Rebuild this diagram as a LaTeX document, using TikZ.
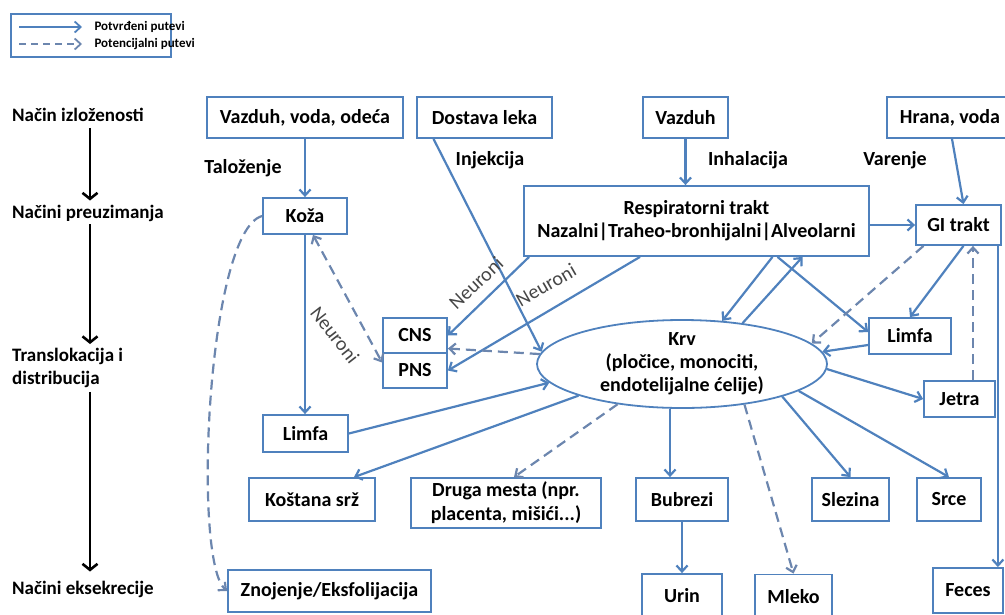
\documentclass[tikz,border=0pt]{standalone}
\usepackage{fontspec}
\setmainfont{Carlito}
\usetikzlibrary{arrows.meta, positioning, shapes.geometric}

\definecolor{pathblue}{RGB}{79,129,189}
\definecolor{dashblue}{RGB}{108,134,174}
\definecolor{neurgray}{RGB}{70,70,70}

\tikzset{
  tbox/.style={draw=pathblue, line width=1.8pt, fill=white, inner sep=2pt,
    font=\fontsize{20}{23}\selectfont\bfseries},
  flow/.style={pathblue, line width=2.2pt, ->},
  maybe/.style={dashblue, line width=2.2pt, dash pattern=on 10pt off 6pt, ->},
  lbl/.style={font=\fontsize{20}{23}\selectfont\bfseries, inner sep=1pt},
  nlbl/.style={font=\fontsize{20}{23}\selectfont, text=neurgray, inner sep=1pt},
  stage/.style={anchor=west, align=left, inner sep=0pt,
    font=\fontsize{19}{23}\selectfont\bfseries},
  stagearrow/.style={line width=2.6pt, -{Straight Barb[length=6pt,width=15pt]}},
}

\begin{document}
\begin{tikzpicture}[x=1pt, y=-1pt, >={Straight Barb[length=6pt,width=11pt]}]
    \useasboundingbox (0,0) rectangle (1005,614);
    \clip (0,0) rectangle (1005,614);

    % Legend
    \node[draw=pathblue, line width=1.5pt, minimum width=160pt, minimum height=43pt,
          anchor=north west] (legend) at (10,13) {};
    \coordinate (solidA) at (19,27);
    \coordinate (solidB) at (82,27);
    \coordinate (dashA) at (19,44);
    \coordinate (dashB) at (82,44);
    \draw[flow, line width=1.8pt] (solidA) -- (solidB);
    \draw[maybe, line width=1.8pt, dash pattern=on 7pt off 5pt] (dashA) -- (dashB);
    \node[anchor=west, font=\fontsize{13}{15}\selectfont\bfseries] (solidtxt) at (91,27) {Potvrđeni putevi};
    \node[anchor=west, font=\fontsize{13}{15}\selectfont\bfseries] (dashtxt) at (91,44) {Potencijalni putevi};

    % Stages on the left
    \node[stage] (expo) at (12,115) {Način izloženosti};
    \node[stage] (uptake) at (12,213) {Načini preuzimanja};
    \node[stage] (transl) at (12,368) {Translokacija i\\distribucija};
    \node[stage] (excr) at (12,589) {Načini eksekrecije};
    \coordinate (axis) at (90,0);
    \draw[stagearrow, shorten <=6pt, shorten >=4pt] (expo.south -| axis) -- (uptake.north -| axis);
    \draw[stagearrow, shorten <=3pt, shorten >=4pt] (uptake.south -| axis) -- (transl.north -| axis);
    \draw[stagearrow, shorten <=4pt, shorten >=9pt] (transl.south -| axis) -- (excr.north -| axis);

    % Exposure media
    \node[tbox, minimum width=196pt, minimum height=41pt] (air) at (305,117.5) {Vazduh, voda, odeća};
    \node[tbox, minimum width=135pt, minimum height=41pt] (drug) at (484.5,117.5) {Dostava leka};
    \node[tbox, minimum width=85pt, minimum height=41pt] (inair) at (685.5,117.5) {Vazduh};
    \node[tbox, minimum width=126pt, minimum height=41pt] (food) at (950,117.5) {Hrana, voda};

    % Uptake routes
    \node[lbl] (depo) at (243,168) {Taloženje};
    \node[lbl] (inj) at (490,160) {Injekcija};
    \node[lbl] (inh) at (748,160) {Inhalacija};
    \node[lbl] (ing) at (895,160) {Varenje};

    % Portals of entry
    \node[tbox, minimum width=84pt, minimum height=36pt] (skin) at (305,216) {Koža};
    \node[tbox, minimum width=345pt, minimum height=70pt, align=center] (resp) at (696.5,221)
        {Respiratorni trakt\\Nazalni|Traheo-bronhijalni|Alveolarni};
    \node[tbox, minimum width=85pt, minimum height=40pt] (gi) at (958.5,225) {GI trakt};

    % Distribution
    \node[tbox, minimum width=64pt, minimum height=35pt] (cns) at (415,335.5) {CNS};
    \node[tbox, minimum width=64pt, minimum height=35pt] (pns) at (415,370.5) {PNS};
    \node[ellipse, draw=pathblue, line width=1.8pt, fill=white, inner sep=0pt,
          minimum width=290pt, minimum height=88pt] (blood) at (682,364) {};
    \node[lbl, align=center] (bloodtxt) at (blood) {Krv\\(pločice, monociti,\\endotelijalne ćelije)};
    \node[tbox, minimum width=82pt, minimum height=36pt] (lymphR) at (910,336) {Limfa};
    \node[tbox, minimum width=71pt, minimum height=36pt] (liver) at (959.5,399) {Jetra};
    \node[tbox, minimum width=85pt, minimum height=37pt] (lymphL) at (305.5,433.5) {Limfa};

    % Target organs
    \node[tbox, minimum width=126pt, minimum height=43pt] (marrow) at (312,499.5) {Koštana srž};
    \node[tbox, minimum width=190pt, minimum height=50pt, inner ysep=0pt, align=center,
          font=\fontsize{20}{24}\selectfont\bfseries] (other) at (506,503) {Druga mesta (npr.\\placenta, mišići...)};
    \node[tbox, minimum width=92pt, minimum height=43pt] (kidney) at (682,499.5) {Bubrezi};
    \node[tbox, minimum width=77pt, minimum height=43pt] (spleen) at (850.5,499.5) {Slezina};
    \node[tbox, minimum width=64pt, minimum height=43pt] (heart) at (949,499.5) {Srce};

    % Excretion
    \node[tbox, minimum width=203pt, minimum height=42pt] (sweat) at (329.5,591) {Znojenje/Eksfolijacija};
    \node[tbox, minimum width=80pt, minimum height=44pt] (urine) at (682,596) {Urin};
    \node[tbox, minimum width=77pt, minimum height=44pt] (milk) at (793.5,596.5) {Mleko};
    \node[tbox, minimum width=70pt, minimum height=45pt] (feces) at (968,590.5) {Feces};

    % Exposure to uptake
    \draw[flow] (air.south) -- (air.south |- skin.north);
    \draw[flow] ([xshift=-51pt]drug.south) -- (blood.175);
    \draw[flow] (inair.south) -- (inair.south |- resp.north);
    \draw[flow] ([xshift=2pt]food.south) -- ([xshift=5pt]gi.north);
    \draw[flow] (resp.east |- gi.west) -- (gi.west);

    % Neurons
    \draw[flow] ([xshift=6pt]resp.south west) -- (cns.east);
    \draw[flow] ([xshift=-56.5pt]resp.south) -- (pns.east);
    \draw[maybe, <->] ([xshift=8pt]skin.south) -- ([yshift=8pt]pns.west);
    \draw[maybe] (blood.176) -- ([yshift=-13pt]cns.east);
    \node[nlbl, rotate=43] (neur1) at (476,283) {Neuroni};
    \node[nlbl, rotate=30] (neur2) at (546,285) {Neuroni};
    \node[nlbl, rotate=-52] (neur3) at (335,335) {Neuroni};

    % Skin routes
    \draw[flow] (skin.south) -- (skin.south |- lymphL.north);
    \draw[maybe] (skin.west) .. controls +(-55,15) and +(-35,-30) .. (sweat.west);
    \draw[flow] (lymphL.east) -- (blood.188);

    % Respiratory tract, GI tract and blood
    \draw[flow] ([xshift=76pt]resp.south) -- (blood.47);
    \draw[flow] (blood.34) -- ([xshift=106pt]resp.south);
    \draw[flow] ([xshift=81pt]resp.south) -- ([yshift=4pt]lymphR.west);
    \draw[maybe] ([xshift=-35pt]gi.south) -- (blood.9);
    \draw[flow] ([xshift=5pt]gi.south) -- (lymphR.north);
    \draw[flow] ([yshift=-9pt]lymphR.west) -- (blood.5);
    \draw[maybe] ([xshift=13.5pt]liver.north) -- ([xshift=13.5pt]liver.north |- gi.south);
    \draw[flow] ([xshift=-4pt]gi.south east) -- ([xshift=-4pt]gi.south east |- feces.north);

    % Blood to organs
    \draw[flow] (blood.-2) -- (liver.west);
    \draw[flow] (blood.197) -- ([xshift=42pt]marrow.north);
    \draw[maybe] (blood.212) -- ([xshift=8pt]other.north);
    \draw[flow] (blood.255) -- (blood.255 |- kidney.north);
    \draw[flow] (kidney.south) -- (urine.north);
    \draw[maybe] (blood.-33) -- (milk.north);
    \draw[flow] (blood.-18) -- (spleen.north);
    \draw[flow] (blood.-13) -- (heart.north);
\end{tikzpicture}
\end{document}
